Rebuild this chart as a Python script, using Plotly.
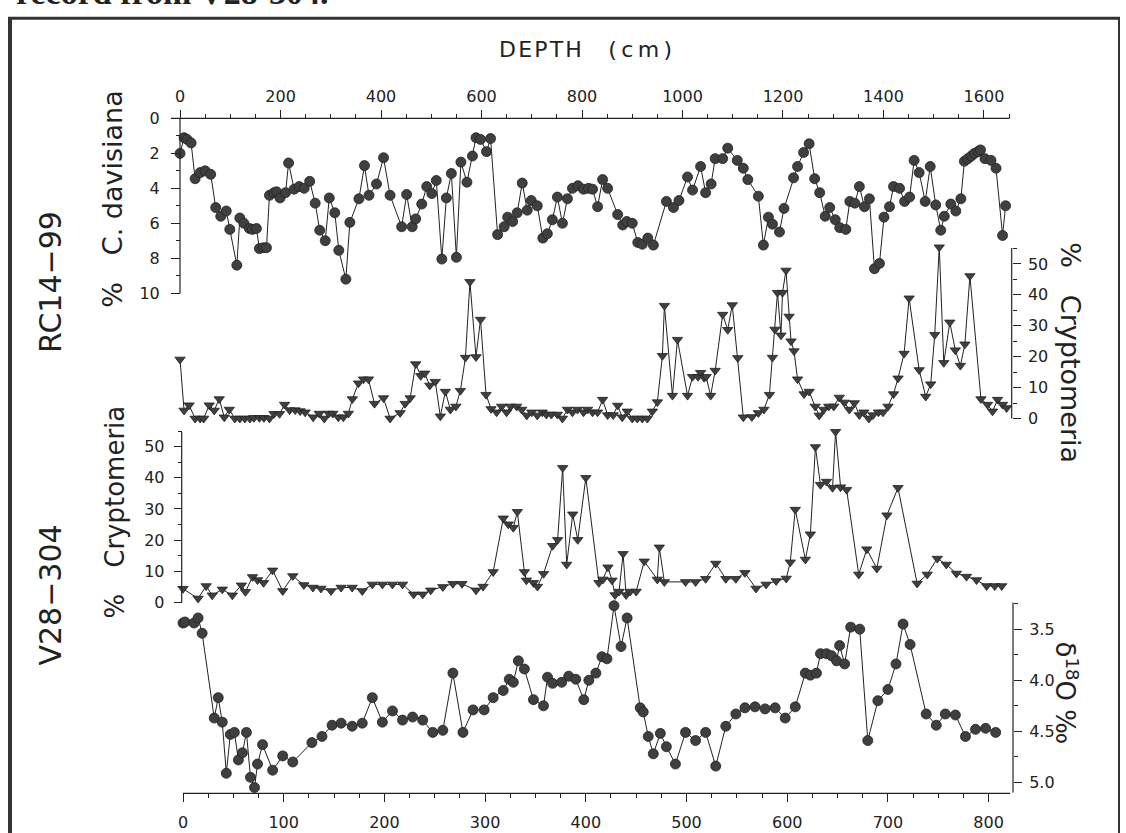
import plotly.graph_objects as go

W, H = 1126, 833


def px(x):
    return x / W


def py(y):
    return 1 - y / H


# ---------------- data ----------------
# RC14-99 : C. davisiana (%) vs depth (cm)
rc_dav_depth = [0, 8, 14, 22, 30, 40, 50, 61, 71, 81,
                92, 99, 113, 119, 127, 138, 144, 152, 158, 166,
                172, 178, 187, 192, 199, 210, 216, 227, 237, 247,
                258, 269, 278, 289, 297, 308, 316, 330, 338, 356,
                367, 376, 391, 405, 418, 441, 451, 462, 469, 481,
                491, 501, 510, 521, 530, 540, 550, 559, 571, 582,
                589, 598, 610, 618, 632, 645, 652, 662, 671, 681,
                691, 699, 711, 722, 731, 741, 751, 761, 771, 781,
                792, 803, 813, 821, 831, 841, 851, 871, 881, 889,
                900, 911, 920, 931, 942, 968, 982, 993, 1010, 1020,
                1036, 1046, 1057, 1065, 1080, 1090, 1109, 1121, 1130, 1151,
                1161, 1171, 1179, 1193, 1202, 1221, 1229, 1241, 1252, 1263,
                1273, 1284, 1293, 1304, 1313, 1325, 1333, 1343, 1352, 1362,
                1372, 1382, 1392, 1401, 1412, 1420, 1432, 1442, 1452, 1461,
                1471, 1483, 1493, 1504, 1514, 1521, 1534, 1544, 1554, 1561,
                1568, 1575, 1581, 1588, 1593, 1602, 1614, 1624, 1637, 1643]
rc_dav_pct = [2.0, 1.1, 1.2, 1.4, 3.45, 3.1, 3.0, 3.2, 5.1, 5.6,
              5.3, 6.35, 8.4, 5.7, 6.0, 6.3, 6.35, 6.3, 7.45, 7.4,
              7.4, 4.4, 4.25, 4.2, 4.55, 4.25, 2.55, 4.05, 3.9, 4.0,
              3.6, 4.85, 6.4, 7.0, 4.55, 5.4, 7.55, 9.2, 5.95, 4.6,
              2.7, 4.4, 3.75, 2.25, 4.4, 6.2, 4.35, 6.2, 5.75, 4.9,
              3.9, 4.3, 3.55, 8.05, 4.55, 3.15, 7.95, 2.5, 3.65, 2.15,
              1.1, 1.2, 1.9, 1.15, 6.65, 6.2, 5.65, 5.9, 5.4, 3.7,
              5.25, 4.7, 5.0, 6.85, 6.6, 5.8, 4.5, 6.0, 4.6, 4.0,
              3.85, 4.05, 4.0, 4.05, 5.05, 3.5, 4.0, 5.5, 6.1, 5.9,
              6.0, 7.1, 7.2, 6.85, 7.25, 4.75, 5.1, 4.7, 3.35, 4.1,
              2.75, 4.25, 3.75, 2.3, 2.3, 1.7, 2.4, 2.85, 3.5, 4.45,
              7.25, 5.65, 6.05, 6.5, 5.15, 3.4, 2.75, 1.95, 1.45, 3.45,
              4.25, 5.6, 5.1, 5.8, 6.25, 6.35, 4.75, 4.85, 3.9, 5.05,
              4.6, 8.6, 8.3, 5.65, 5.05, 3.9, 4.0, 4.75, 4.5, 2.4,
              3.1, 4.75, 2.75, 4.95, 6.4, 5.6, 4.9, 5.3, 4.6, 2.45,
              2.3, 2.15, 2.0, 1.9, 1.8, 2.3, 2.4, 2.85, 6.7, 5.0]

# RC14-99 : Cryptomeria (%) vs depth (cm)
rc_cry_depth = [0, 8, 18, 30, 40, 47, 58, 68, 78, 88,
                98, 109, 119, 129, 139, 147, 158, 167, 178, 187,
                198, 208, 218, 229, 239, 249, 265, 277, 287, 296,
                304, 315, 325, 335, 343, 355, 365, 375, 387, 405,
                418, 438, 448, 458, 469, 479, 487, 497, 508, 518,
                528, 538, 549, 558, 568, 577, 589, 598, 609, 619,
                630, 640, 650, 658, 670, 680, 690, 700, 711, 721,
                729, 739, 751, 761, 771, 781, 791, 803, 811, 821,
                831, 841, 851, 862, 871, 880, 890, 900, 910, 920,
                930, 940, 950, 960, 964, 980, 990, 1010, 1020, 1031,
                1036, 1043, 1047, 1056, 1065, 1080, 1090, 1099, 1110, 1121,
                1138, 1151, 1162, 1173, 1179, 1184, 1189, 1196, 1199, 1206,
                1212, 1216, 1222, 1229, 1242, 1252, 1264, 1272, 1281, 1291,
                1301, 1312, 1322, 1332, 1342, 1352, 1361, 1371, 1379, 1390,
                1399, 1409, 1420, 1429, 1441, 1451, 1471, 1484, 1494, 1502,
                1511, 1520, 1532, 1543, 1553, 1562, 1572, 1594, 1607, 1617,
                1627, 1637, 1645]
rc_cry_pct = [19.1, 2.6, 4.3, 0.0, 0.0, 0.0, 4.3, 2.6, 6.3, 0.4,
              2.9, 0.0, 0.0, 0.0, 0.0, 0.2, 0.2, 0.2, 0.0, 1.5,
              1.5, 4.5, 2.7, 2.7, 2.4, 2.0, 0.4, 1.6, 0.0, 1.6,
              1.6, 0.4, 0.4, 1.6, 6.3, 11.4, 12.7, 12.7, 4.8, 6.6,
              0.0, 1.8, 4.8, 6.6, 17.6, 13.8, 14.6, 10.7, 11.9, 0.7,
              8.7, 2.9, 3.9, 9.0, 19.7, 44.2, 19.9, 32.0, 7.7, 3.1,
              2.0, 3.9, 2.0, 3.9, 3.9, 2.9, 1.0, 2.0, 1.0, 2.0,
              1.3, 1.3, 1.3, 0.0, 2.9, 2.0, 2.9, 2.0, 2.9, 2.0,
              2.0, 6.1, 1.1, 1.1, 4.2, 0.4, 2.3, 0.0, 0.0, 0.0,
              0.0, 2.3, 5.3, 20.3, 36.5, 7.4, 25.5, 7.4, 13.5, 13.5,
              14.8, 13.2, 13.5, 7.4, 15.5, 33.6, 28.7, 36.7, 19.6, 0.4,
              0.5, 1.8, 2.9, 7.7, 19.7, 28.8, 40.7, 26.9, 40.7, 47.9,
              33.0, 25.0, 21.8, 12.7, 7.9, 8.7, 3.9, 1.0, 2.9, 3.9,
              3.9, 6.8, 5.2, 2.9, 5.0, 1.1, 2.0, 0.0, 1.1, 2.0,
              2.0, 3.9, 7.9, 13.0, 21.0, 38.9, 15.7, 7.1, 11.1, 27.1,
              55.4, 18.0, 31.1, 22.1, 17.1, 24.0, 46.1, 6.3, 4.5, 2.3,
              6.1, 4.5, 3.4]

# V28-304 : Cryptomeria (%) vs depth (cm)
v28_cry_depth = [0, 15, 23, 29, 39, 49, 58, 62, 69, 74,
                 80, 89, 99, 109, 120, 129, 137, 147, 157, 168,
                 178, 188, 198, 208, 218, 229, 238, 246, 258, 268,
                 277, 291, 298, 308, 318, 323, 328, 332, 339, 341,
                 348, 352, 358, 367, 372, 377, 381, 387, 392, 400,
                 413, 417, 422, 426, 429, 433, 437, 440, 444, 450,
                 458, 471, 473, 478, 499, 509, 519, 529, 539, 549,
                 558, 569, 579, 589, 599, 603, 608, 618, 623, 628,
                 633, 639, 645, 648, 653, 659, 671, 679, 689, 699,
                 710, 729, 739, 749, 758, 768, 778, 788, 798, 806,
                 813]
v28_cry_pct = [4.4, 1.3, 5.3, 2.3, 4.2, 2.3, 5.5, 3.4, 8.2, 7.2,
               6.3, 10.3, 3.7, 8.5, 5.6, 4.8, 4.5, 3.7, 4.8, 4.8,
               3.7, 5.8, 5.8, 5.8, 5.8, 2.6, 2.6, 3.9, 5.0, 6.0,
               6.0, 3.9, 5.1, 9.8, 27.0, 25.1, 24.0, 29.1, 9.8, 7.1,
               6.3, 5.1, 9.2, 18.2, 20.1, 43.2, 12.2, 28.3, 20.1, 40.0,
               6.3, 7.4, 11.3, 7.1, 2.4, 3.5, 15.6, 2.4, 3.5, 3.5,
               13.2, 7.4, 17.7, 6.6, 6.6, 6.6, 7.6, 12.5, 7.6, 7.6,
               9.5, 4.5, 5.8, 6.9, 7.7, 12.9, 29.8, 13.8, 21.9, 49.9,
               37.8, 38.8, 36.8, 54.8, 37.0, 36.2, 9.0, 17.1, 10.9, 28.0,
               36.8, 6.1, 9.0, 14.1, 12.2, 9.3, 8.3, 7.2, 5.3, 5.3,
               5.3]

# V28-304 : delta 18O (per mil) vs depth (cm)
v28_d18o_depth = [0, 2, 11, 15, 19, 31, 35, 39, 43, 47,
                  51, 55, 59, 63, 67, 71, 74, 79, 89, 99,
                  109, 128, 138, 148, 157, 168, 178, 188, 198, 208,
                  218, 228, 238, 248, 258, 268, 278, 288, 299, 308,
                  318, 324, 328, 333, 339, 348, 358, 362, 367, 376,
                  383, 390, 398, 403, 410, 416, 421, 428, 435, 441,
                  454, 457, 462, 467, 474, 480, 489, 499, 509, 519,
                  529, 539, 549, 558, 568, 578, 588, 598, 608, 618,
                  623, 629, 633, 639, 644, 649, 652, 657, 663, 672,
                  680, 690, 700, 708, 715, 722, 738, 748, 757, 767,
                  777, 787, 797, 807]
v28_d18o = [3.44, 3.43, 3.44, 3.39, 3.54, 4.37, 4.17, 4.41, 4.91, 4.53,
            4.51, 4.78, 4.71, 4.51, 4.95, 5.05, 4.82, 4.63, 4.88, 4.74,
            4.80, 4.61, 4.55, 4.44, 4.42, 4.45, 4.42, 4.17, 4.41, 4.30,
            4.39, 4.36, 4.39, 4.51, 4.49, 3.93, 4.51, 4.29, 4.29, 4.17,
            4.10, 3.99, 4.02, 3.81, 3.89, 4.19, 4.25, 3.97, 4.03, 4.02,
            3.96, 3.99, 4.19, 4.00, 3.93, 3.77, 3.79, 3.27, 3.67, 3.39,
            4.27, 4.31, 4.55, 4.72, 4.52, 4.65, 4.82, 4.51, 4.59, 4.51,
            4.84, 4.45, 4.33, 4.27, 4.26, 4.28, 4.27, 4.37, 4.26, 3.93,
            3.95, 3.93, 3.74, 3.74, 3.76, 3.81, 3.66, 3.84, 3.48, 3.50,
            4.59, 4.20, 4.09, 3.84, 3.45, 3.65, 4.33, 4.44, 4.33, 4.34,
            4.55, 4.48, 4.47, 4.51]

top_ticks = [0, 200, 400, 600, 800, 1000, 1200, 1400, 1600]
bottom_ticks = [0, 100, 200, 300, 400, 500, 600, 700, 800]
dav_ticks = [0, 2, 4, 6, 8, 10]
cry_ticks = [0, 10, 20, 30, 40, 50]
d18o_ticks = [3.5, 4.0, 4.5, 5.0]
d18o_ticktext = ["3.5", "4.0", "4.5", "5.0"]

# ---------------- styling ----------------
INK = "#222222"
line_style = dict(color=INK, width=1)
circ = dict(symbol="circle", size=10, color="#3f3f3f", line=dict(color=INK, width=0.8))
tri = dict(symbol="triangle-down", size=9, color="#3f3f3f", line=dict(color=INK, width=0.8))
FONT = "DejaVu Sans"
tickfont = dict(family=FONT, size=16, color=INK)

fig = go.Figure()
fig.add_trace(go.Scatter(x=rc_dav_depth, y=rc_dav_pct, xaxis="x", yaxis="y",
                         mode="lines+markers", line=line_style, marker=circ, cliponaxis=False))
fig.add_trace(go.Scatter(x=rc_cry_depth, y=rc_cry_pct, xaxis="x", yaxis="y2",
                         mode="lines+markers", line=line_style, marker=tri, cliponaxis=False))
fig.add_trace(go.Scatter(x=v28_cry_depth, y=v28_cry_pct, xaxis="x2", yaxis="y3",
                         mode="lines+markers", line=line_style, marker=tri, cliponaxis=False))
fig.add_trace(go.Scatter(x=v28_d18o_depth, y=v28_d18o, xaxis="x2", yaxis="y4",
                         mode="lines+markers", line=line_style, marker=circ, cliponaxis=False))

common = dict(showgrid=False, zeroline=False, showline=False, ticks="outside",
              tickcolor=INK, tickwidth=1, tickfont=tickfont, tickmode="array")


def minor(d, tick0=0):
    return dict(tick0=tick0, dtick=d, ticks="outside", ticklen=4, tickcolor=INK, tickwidth=1, showgrid=False)


fig.update_layout(
    width=W, height=H, showlegend=False,
    paper_bgcolor="white", plot_bgcolor="rgba(0,0,0,0)",
    margin=dict(l=0, r=0, t=0, b=0),
    xaxis=dict(domain=[px(171), px(1009.6)], range=[-18, 1651], anchor="free",
               position=py(115.7), side="top", tickvals=top_ticks, ticklen=8,
               ticklabelstandoff=2, minor=minor(50), **common),
    xaxis2=dict(domain=[px(176), px(1012)], range=[-6.95, 823.2], anchor="free",
                position=py(798), side="bottom", tickvals=bottom_ticks, ticklen=8,
                ticklabelstandoff=6, minor=minor(25), **common),
    yaxis=dict(domain=[py(298), py(110)], range=[10.323, -0.323], anchor="free",
               position=px(180), side="left", tickvals=dav_ticks, ticklen=9,
               ticklabelstandoff=8, minor=minor(1), **common),
    yaxis2=dict(domain=[py(424), py(244)], range=[-1.6, 56.0], anchor="free",
                position=px(1011.7), side="right", tickvals=cry_ticks, ticklen=8,
                ticklabelstandoff=4, minor=minor(5), **common),
    yaxis3=dict(domain=[py(610), py(430)], range=[-1.587, 55.556], anchor="free",
                position=px(181.7), side="left", tickvals=cry_ticks, ticklen=8,
                ticklabelstandoff=6, minor=minor(5), **common),
    yaxis4=dict(domain=[py(800), py(600)], range=[5.1263, 3.1902], anchor="free",
                position=px(1013), side="right", tickvals=d18o_ticks, ticktext=d18o_ticktext,
                ticklen=8, ticklabelstandoff=4, minor=minor(0.25, 3.5), **common),
)

# axis lines drawn explicitly so they end exactly where the original's do
axis_lines = [
    (171, 115.7, 1009.6, 115.7),   # top depth axis
    (180, 115.7, 180, 292.3),      # C. davisiana axis
    (1011.7, 246.7, 1011.7, 419),  # RC14-99 Cryptomeria axis
    (181.7, 432.7, 181.7, 605),    # V28-304 Cryptomeria axis
    (1013, 605, 1013, 797),        # delta 18O axis
    (183, 798, 1010, 798),         # bottom depth axis
]
shapes = []
for x0, y0, x1, y1 in axis_lines:
    shapes.append(dict(type="line", xref="paper", yref="paper", x0=px(x0), y0=py(y0),
                       x1=px(x1), y1=py(y1), line=dict(color=INK, width=1.2)))
# frame of the figure page
shapes.append(dict(type="line", xref="paper", yref="paper", x0=px(10), y0=py(14.5), x1=px(10), y1=py(845),
                   line=dict(color="#333", width=4)))
shapes.append(dict(type="line", xref="paper", yref="paper", x0=px(8), y0=py(14.5), x1=px(1120), y1=py(14.5),
                   line=dict(color="#333", width=3)))
shapes.append(dict(type="line", xref="paper", yref="paper", x0=px(1119), y0=py(14.5), x1=px(1119), y1=py(845),
                   line=dict(color="#333", width=2)))
fig.update_layout(shapes=shapes)

ann = []


def label(text, x, y, size, angle=0, family=FONT, weight="normal", **kw):
    ann.append(dict(text=text, x=px(x), y=py(y), xref="paper", yref="paper", showarrow=False,
                    textangle=angle, font=dict(family=family, size=size, color=INK, weight=weight),
                    xanchor="center", yanchor="middle", **kw))


label("D\u200aE\u200aP\u200aT\u200aH\u2003\u2009(\u2009c\u2009m\u2009)", 585, 46, 22)
label("RC14\u221299", 51, 281, 30, angle=-90)
label("V28\u2212304", 51, 598, 30, angle=-90)
label("%\u2003C. davisiana", 113, 197, 27, angle=-90)
label("%\u2003Cryptomeria", 115, 514, 26, angle=-90)
label("%\u2003Cryptomeria", 1071, 352, 27, angle=90)
label("\u03b4<sup>18</sup>O \u2030", 1066, 696, 26, angle=90)
label("record from V28-304.", 172, -12, 34, family="Liberation Serif", weight="bold")
fig.update_layout(annotations=ann)

fig.write_html("out.html", config={"displayModeBar": False},
               post_script="document.body.style.margin='0';document.body.style.overflow='hidden';")
